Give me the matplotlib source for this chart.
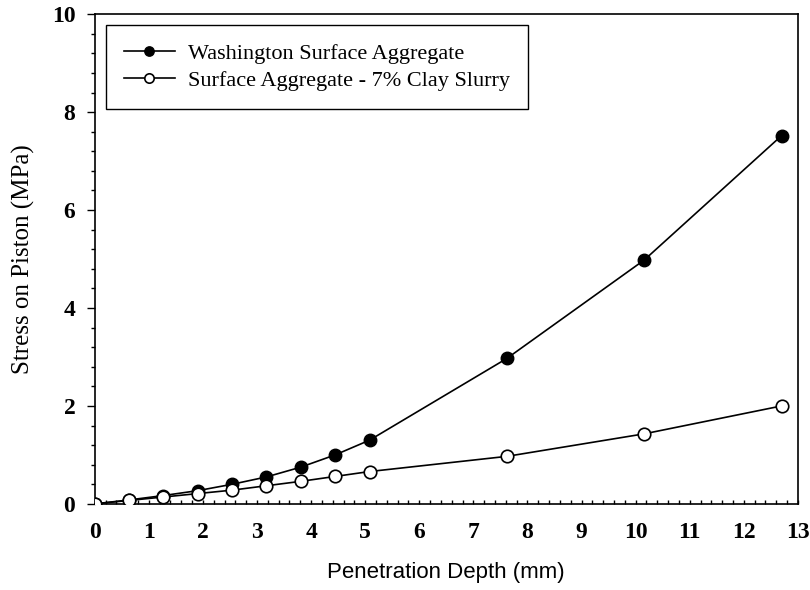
import numpy as np
import matplotlib.pyplot as plt
from matplotlib.ticker import MultipleLocator

# penetration depths (mm)
depth = [0, 0.635, 1.27, 1.905, 2.54, 3.175, 3.81, 4.445, 5.08, 7.62, 10.16, 12.7]
# stress on piston (MPa)
washington = [0, 0.08, 0.17, 0.27, 0.40, 0.55, 0.75, 1.00, 1.30, 2.97, 4.98, 7.52]
clay_slurry = [0, 0.07, 0.14, 0.21, 0.28, 0.37, 0.46, 0.56, 0.66, 0.97, 1.43, 2.00]

labels = ['Washington Surface Aggregate', 'Surface Aggregate - 7% Clay Slurry']

fig = plt.figure(figsize=(8.1, 5.9), dpi=100)
ax = fig.add_axes([0.117, 0.146, 0.868, 0.830])

ax.plot(depth, washington, 'k-', marker='o', markersize=9, markerfacecolor='black',
        markeredgecolor='black', linewidth=1.2, label=labels[0], zorder=3)
ax.plot(depth, clay_slurry, 'k-', marker='o', markersize=9, markerfacecolor='white',
        markeredgecolor='black', markeredgewidth=1.2, linewidth=1.2, label=labels[1], zorder=4)

ax.set_xlim(0, 13)
ax.set_ylim(0, 10)
ax.xaxis.set_major_locator(MultipleLocator(1))
ax.xaxis.set_minor_locator(MultipleLocator(0.2))
ax.yaxis.set_major_locator(MultipleLocator(2))
ax.yaxis.set_minor_locator(MultipleLocator(0.4))

ax.tick_params(axis='x', which='major', direction='in', length=3, width=1, pad=13)
ax.tick_params(axis='x', which='minor', direction='in', length=3, width=1)
ax.tick_params(axis='y', which='major', direction='out', length=6, width=1, pad=8)
ax.tick_params(axis='y', which='minor', direction='out', length=3, width=1)

for lab in ax.get_xticklabels() + ax.get_yticklabels():
    lab.set_fontfamily('Liberation Serif')
    lab.set_fontweight('bold')
    lab.set_fontsize(17)

for sp in ax.spines.values():
    sp.set_linewidth(1.2)

ax.set_xlabel('Penetration Depth (mm)', fontfamily='Liberation Sans', fontsize=16, labelpad=14)
ax.set_ylabel('Stress on Piston (MPa)', fontfamily='Liberation Serif', fontsize=18, labelpad=12)

leg = ax.legend(loc='upper left', prop={'family': 'Liberation Serif', 'size': 16},
                frameon=True, fancybox=False, edgecolor='black', framealpha=1,
                borderaxespad=0.5, handlelength=2.3, handletextpad=0.6,
                borderpad=0.8, labelspacing=0.3, markerscale=0.75)
leg.get_frame().set_linewidth(1.0)

fig.savefig('out.png', dpi=100)
